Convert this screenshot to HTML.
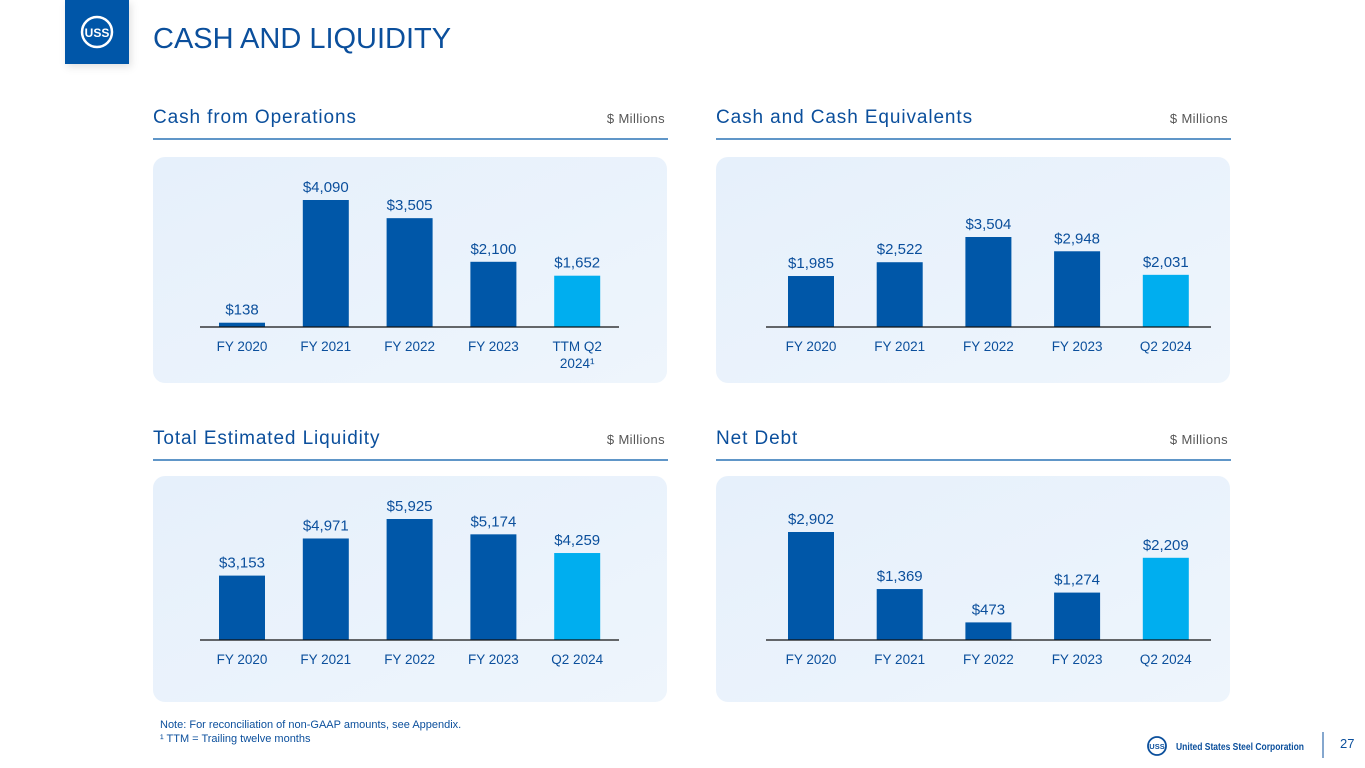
<!DOCTYPE html>
<html><head><meta charset="utf-8"><style>
html,body{margin:0;padding:0;background:#fff;width:1365px;height:768px;overflow:hidden;font-family:"Liberation Sans",sans-serif}
svg{display:block}
</style></head><body>
<svg width="1365" height="768" viewBox="0 0 1365 768">
<defs>
<linearGradient id="cg" x1="0" y1="0" x2="1" y2="1"><stop offset="0" stop-color="#e6f0fb"/><stop offset="1" stop-color="#eef5fc"/></linearGradient>
<filter id="sh" x="-20%" y="-20%" width="140%" height="140%"><feDropShadow dx="2" dy="3" stdDeviation="4" flood-color="#000" flood-opacity="0.12"/></filter>
</defs>
<g>
<rect x="65" y="0" width="64" height="64" fill="#0057a8" filter="url(#sh)"/>
<circle cx="97" cy="32" r="15" fill="none" stroke="#fff" stroke-width="2.5"/>
<text x="97" y="37" font-size="12" font-weight="bold" fill="#fff" text-anchor="middle">USS</text>
</g>
<text x="153" y="48" font-size="29" fill="#0b4f9c">CASH AND LIQUIDITY</text>
<g id="charts"></g>
<text x="160" y="728" font-size="11" fill="#0b4f9c">Note: For reconciliation of non-GAAP amounts, see Appendix.</text>
<text x="160" y="742" font-size="11" fill="#0b4f9c">¹ TTM = Trailing twelve months</text>
<g>
<circle cx="1157" cy="746" r="9" fill="none" stroke="#0b4f9c" stroke-width="1.8"/>
<text x="1157" y="749" font-size="7.5" font-weight="bold" fill="#0b4f9c" text-anchor="middle">USS</text>
<text x="1176" y="750" font-size="10" font-weight="bold" fill="#0b4f9c" textLength="128" lengthAdjust="spacingAndGlyphs">United States Steel Corporation</text>
</g>
<line x1="1323" y1="732" x2="1323" y2="758" stroke="#0b4f9c" stroke-width="1"/>
<text x="1340" y="748" font-size="13" fill="#0b4f9c">27</text>
</svg>
<script>
const NS="http://www.w3.org/2000/svg";
const cfoCats=["FY 2020","FY 2021","FY 2022","FY 2023","TTM Q2"];
const cfoVals=[138,4090,3505,2100,1652];
const cceCats=["FY 2020","FY 2021","FY 2022","FY 2023","Q2 2024"];
const cceVals=[1985,2522,3504,2948,2031];
const tliCats=["FY 2020","FY 2021","FY 2022","FY 2023","Q2 2024"];
const tliVals=[3153,4971,5925,5174,4259];
const ndCats=["FY 2020","FY 2021","FY 2022","FY 2023","Q2 2024"];
const ndVals=[2902,1369,473,1274,2209];
const panels=[
 {name:"cash-from-operations",title:"Cash from Operations",x:153,ty:0,cats:cfoCats,vals:cfoVals,scale:127/4090,ax0:200,ax1:619,c0:242,step:83.8},
 {name:"cash-equivalents",title:"Cash and Cash Equivalents",x:716,ty:0,cats:cceCats,vals:cceVals,scale:90/3504,ax0:766,ax1:1211,c0:811,step:88.7},
 {name:"total-liquidity",title:"Total Estimated Liquidity",x:153,ty:1,cats:tliCats,vals:tliVals,scale:121/5925,ax0:200,ax1:619,c0:242,step:83.8},
 {name:"net-debt",title:"Net Debt",x:716,ty:1,cats:ndCats,vals:ndVals,scale:108/2902,ax0:766,ax1:1211,c0:811,step:88.7}
];
const root=document.getElementById("charts");
function mk(tag,attrs,parent,txt){const e=document.createElementNS(NS,tag);for(const k in attrs)e.setAttribute(k,attrs[k]);if(txt!==undefined)e.textContent=txt;parent.appendChild(e);return e;}
const fmt=v=>"$"+v.toLocaleString("en-US");
panels.forEach(p=>{
 const oy=p.ty?321:0;
 const g=mk("g",{},root);
 
 
 const t=mk("text",{x:p.x,y:123+oy,"font-size":19,"letter-spacing":0.9,fill:"#0b4f9c"},g,p.title);
 
 
 const u=mk("text",{x:p.x+512,y:123+oy,"font-size":13,"letter-spacing":0.4,fill:"#555","text-anchor":"end"},g,"$ Millions");
 
 
 const l=mk("line",{x1:p.x,x2:p.x+515,y1:139+oy,y2:139+oy,stroke:"#0057a8","stroke-width":1.3},g);
 
 
 const cy=p.ty?476:157;
 const card=mk("rect",{x:p.x,y:cy,width:514,height:226,rx:12,fill:"url(#cg)"},g);
 
 
 const by=p.ty?640:327;
 p.vals.forEach((v,i)=>{
  const cx=p.c0+i*p.step, h=v*p.scale, last=i===p.vals.length-1;
  const b=mk("rect",{x:cx-23,y:by-h,width:46,height:h,fill:last?"#00aeef":"#0057a8"},g);
  
  
  const vl=mk("text",{x:cx,y:by-h-8,"font-size":15,fill:"#0b4f9c","text-anchor":"middle"},g,fmt(v));
  
  
  const cl=mk("text",{x:cx,y:by+24,"font-size":13.5,fill:"#0b4f9c","text-anchor":"middle"},g,p.cats[i]);
  
  
  if(p.name==="cash-from-operations"&&last){
   const c2=mk("text",{x:cx,y:by+41,"font-size":13.5,fill:"#0b4f9c","text-anchor":"middle"},g);
   
   
   c2.textContent="2024¹";
  }
 });
 const ax=mk("line",{x1:p.ax0,x2:p.ax1,y1:by,y2:by,stroke:"#111","stroke-width":1.2},g);
 
 
});
</script>
</body></html>
